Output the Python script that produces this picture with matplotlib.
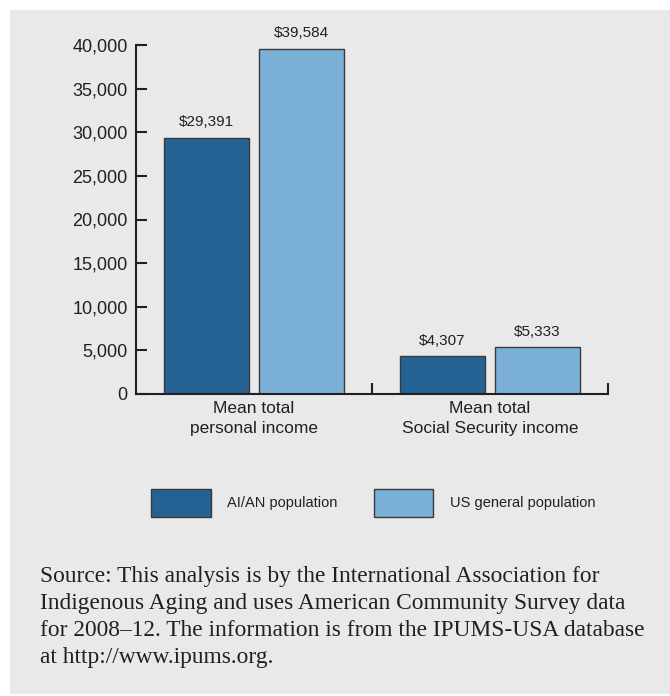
import matplotlib.pyplot as plt
from matplotlib.patches import Rectangle, Patch
import numpy as np

categories = ["Mean total\npersonal income", "Mean total\nSocial Security income"]
series_names = ["AI/AN population", "US general population"]
aian = [29391, 4307]
us_general = [39584, 5333]
y_ticks = [0, 5000, 10000, 15000, 20000, 25000, 30000, 35000, 40000]

dark_blue = "#246294"
light_blue = "#7aafd6"
edge = "#3a3a3a"
panel = "#e9e9e9"
ink = "#231f20"

sans = ["Liberation Sans", "DejaVu Sans"]
serif = ["Liberation Serif", "DejaVu Serif"]

fig = plt.figure(figsize=(6.7, 6.96), dpi=100)
fig.patch.set_facecolor("white")
fig.patches.append(Rectangle((10 / 670, 2 / 696), 1 - 10 / 670, 684 / 696,
                             transform=fig.transFigure, facecolor=panel,
                             edgecolor="none", zorder=-10))

ax = fig.add_axes([136 / 670, 302 / 696, 472 / 670, 349 / 696])
ax.set_facecolor("none")

x = np.arange(len(categories))
width = 0.36
offset = 0.201
b1 = ax.bar(x - offset, aian, width, color=dark_blue, edgecolor=edge, linewidth=1)
b2 = ax.bar(x + offset, us_general, width, color=light_blue, edgecolor=edge, linewidth=1)

for bars, vals in [(b1, aian), (b2, us_general)]:
    for rect, v in zip(bars, vals):
        ax.annotate("${:,}".format(v), (rect.get_x() + rect.get_width() / 2, v),
                    xytext=(0, 6), textcoords="offset points", ha="center",
                    va="bottom", fontsize=11, family=sans, color=ink)

ax.set_xlim(-0.5, 1.5)
ax.set_ylim(0, 40000)
ax.set_yticks(y_ticks)
ax.set_yticklabels(["{:,}".format(t) for t in y_ticks], family=sans,
                   fontsize=13, color=ink)
ax.tick_params(axis="y", direction="in", length=8, width=1.5, color=ink, pad=6)

ax.set_xticks([0.5, 1.5])
ax.set_xticklabels([])
ax.tick_params(axis="x", which="major", direction="in", length=8, width=1.5, color=ink)
ax.set_xticks(x, minor=True)
ax.set_xticklabels(categories, minor=True, family=sans, fontsize=12.5, color=ink,
                   linespacing=1.45)
ax.tick_params(axis="x", which="minor", length=0, pad=5)

for side in ["top", "right"]:
    ax.spines[side].set_visible(False)
for side in ["left", "bottom"]:
    ax.spines[side].set_linewidth(1.5)
    ax.spines[side].set_color(ink)

handles = [Patch(facecolor=dark_blue, edgecolor=edge),
           Patch(facecolor=light_blue, edgecolor=edge)]
fig.legend(handles, series_names, loc="center", bbox_to_anchor=(373 / 670, 1 - 503 / 696),
           ncol=2, frameon=False, prop={"family": sans, "size": 10.5},
           handlelength=4.1, handleheight=2.6, handletextpad=1.1, columnspacing=2.5,
           labelcolor=ink)

source = ("Source: This analysis is by the International Association for\n"
          "Indigenous Aging and uses American Community Survey data\n"
          "for 2008\u201312. The information is from the IPUMS-USA database\n"
          "at http://www.ipums.org.")
fig.text(40 / 670, 1 - 566 / 696, source, ha="left", va="top", family=serif,
         fontsize=16.8, color=ink, linespacing=1.38)

fig.savefig("out.png", dpi=100)
